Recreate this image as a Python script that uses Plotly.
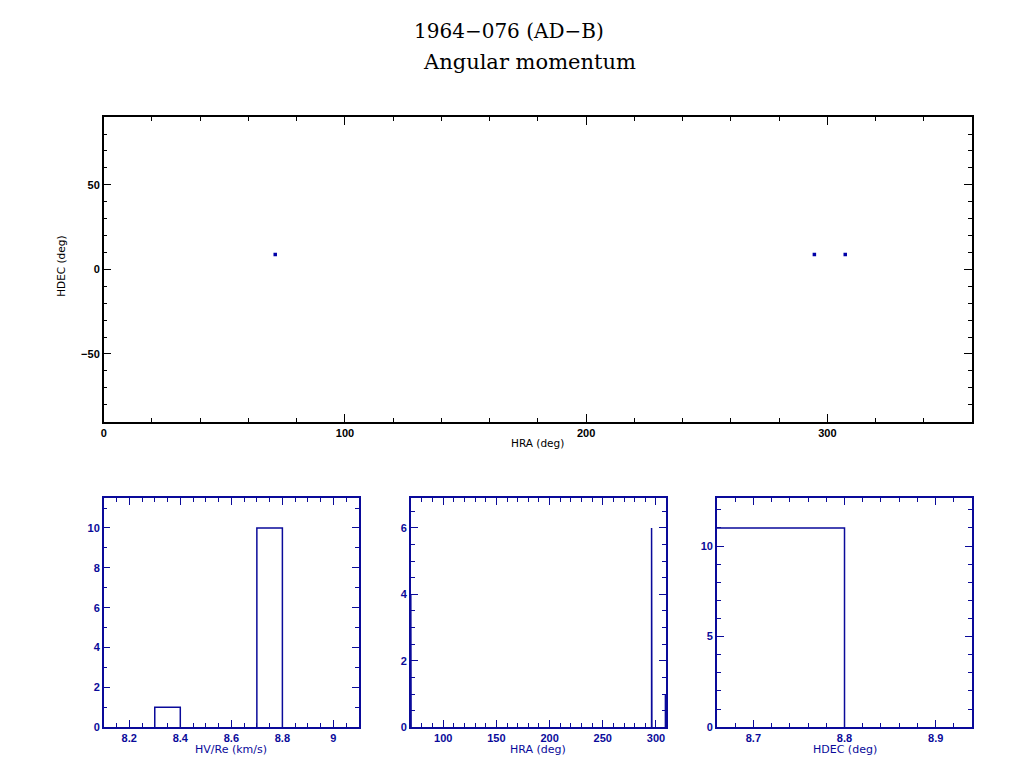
import plotly.graph_objects as go

# The page has a body margin; keep the whole document inside 1024x768
OFF = 8
W, H = 1024 - 2 * OFF, 768 - 2 * OFF
OX, OY = 9, 4   # empirical mapping offsets from reference pixels to figure pixels

# ---- data ----
sc_hra = [71.1, 294.6, 307.4]
sc_hdec = [8.8, 8.8, 8.8]

hv_left = [8.3, 8.7]
hv_width = 0.1
hv_counts = [1, 10]

hra_left = [69.5, 295.9, 308.9]
hra_width = 0.3
hra_counts = [4, 6, 1]

hdec_left = [8.6]
hdec_width = 0.2
hdec_counts = [11]

BLUE = "#0a0a9a"
BLACK = "#000000"
FONT = "Liberation Sans"
TFONT = "DejaVu Sans"


def PX(x):
    return (x - OX) / W


def PY(y):
    return 1 - (y - OY) / H


def px_x(a, b):
    return [PX(a), PX(b)]


def px_y(top, bot):
    return [PY(bot), PY(top)]


def outline(lefts, width, counts):
    xs, ys = [], []
    for l, c in zip(lefts, counts):
        xs += [l, l, l + width, l + width, None]
        ys += [0, c, c, 0, None]
    return xs, ys


fig = go.Figure()

fig.add_trace(go.Scatter(x=sc_hra, y=sc_hdec, mode="markers",
                         marker=dict(symbol="square", size=3.5, color="#0000a8", line=dict(width=0)),
                         xaxis="x", yaxis="y", showlegend=False))

for i, (l, w, c) in enumerate([(hv_left, hv_width, hv_counts),
                               (hra_left, hra_width, hra_counts),
                               (hdec_left, hdec_width, hdec_counts)]):
    xs, ys = outline(l, w, c)
    fig.add_trace(go.Scatter(x=xs, y=ys, mode="lines", line=dict(color=BLUE, width=1.5),
                             xaxis=f"x{i+2}", yaxis=f"y{i+2}", showlegend=False))


def ax(domain, rng, dtick, minor_dtick, color, anchor, ticklen=8, mlen=4, tick0=0):
    return dict(domain=domain, range=rng, dtick=dtick, tick0=tick0, anchor=anchor,
                showline=True, linecolor=color, linewidth=1.5, mirror="ticks",
                ticks="inside", ticklen=ticklen, tickcolor=color, tickwidth=1,
                showgrid=False, zeroline=False,
                tickfont=dict(family=FONT, size=11, color=color, weight="bold"),
                minor=dict(dtick=minor_dtick, ticks="inside", ticklen=mlen, tickcolor=color, showgrid=False,
                           tick0=tick0),
                fixedrange=True)


bot_y = px_y(498, 729)
layout = dict(
    width=W, height=H, margin=dict(l=0, r=0, t=0, b=0),
    paper_bgcolor="white", plot_bgcolor="white",
    xaxis=ax(px_x(102, 973), [0, 360], 100, 20, BLACK, "y"),
    yaxis=ax(px_y(114, 421), [-90, 90], 50, 10, BLACK, "x"),
    xaxis2=ax(px_x(102, 358), [8.1, 9.1], 0.2, 0.05, BLUE, "y2", 7, 4),
    yaxis2=ax(bot_y, [0, 11.5], 2, 1, BLUE, "x2", 7, 4),
    xaxis3=ax(px_x(410, 666), [69.5, 309.5], 50, 10, BLUE, "y3", 7, 4),
    yaxis3=ax(bot_y, [0, 6.9], 2, 0.5, BLUE, "x3", 7, 4),
    xaxis4=ax(px_x(717, 973), [8.66, 8.94], 0.1, 0.02, BLUE, "y4", 7, 4),
    yaxis4=ax(bot_y, [0, 12.65], 5, 1, BLUE, "x4", 7, 4),
)
fig.update_layout(**layout)

ann = []
ann.append(dict(text="1964\u2212076 (AD\u2212B)", x=PX(508), y=PY(27), xref="paper", yref="paper",
                xanchor="center", yanchor="middle", showarrow=False,
                font=dict(family="DejaVu Serif", size=20, color=BLACK)))
ann.append(dict(text="Angular momentum", x=PX(529), y=PY(58), xref="paper", yref="paper",
                xanchor="center", yanchor="middle", showarrow=False,
                font=dict(family="DejaVu Serif", size=21, color=BLACK)))
ann.append(dict(text="HRA (deg)", x=PX(537), y=PY(442), xref="paper", yref="paper",
                xanchor="center", yanchor="middle", showarrow=False,
                font=dict(family=TFONT, size=10.5, color=BLACK)))
ann.append(dict(text="HDEC (deg)", x=PX(59), y=PY(264), xref="paper", yref="paper",
                xanchor="center", yanchor="middle", showarrow=False, textangle=-90,
                font=dict(family=TFONT, size=10.5, color=BLACK)))
for t, cx in [("HV/Re (km/s)", 230), ("HRA (deg)", 538), ("HDEC (deg)", 845)]:
    ann.append(dict(text=t, x=PX(cx), y=PY(751), xref="paper", yref="paper",
                    xanchor="center", yanchor="middle", showarrow=False,
                    font=dict(family=TFONT, size=11, color=BLUE)))
fig.update_layout(annotations=ann)

fig.write_html("out.html")
